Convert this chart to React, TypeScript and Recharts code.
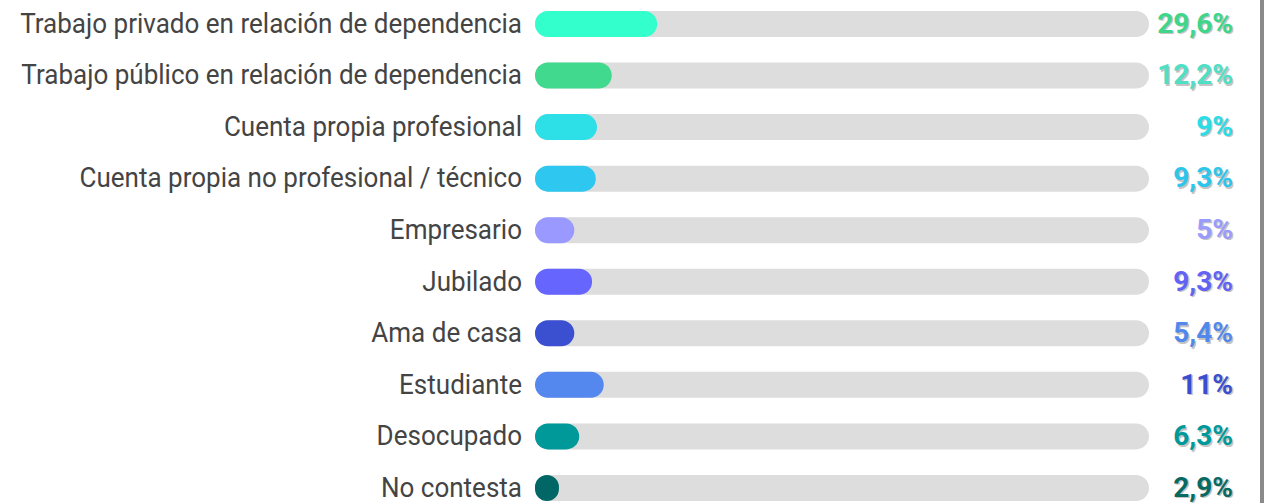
import React from "react";
import { BarChart, Bar, XAxis, YAxis, Cell } from "recharts";

const categories = [
  "Trabajo privado en relación de dependencia",
  "Trabajo público en relación de dependencia",
  "Cuenta propia profesional",
  "Cuenta propia no profesional / técnico",
  "Empresario",
  "Jubilado",
  "Ama de casa",
  "Estudiante",
  "Desocupado",
  "No contesta",
];
// bar lengths as drawn (percent of the track)
const barValues = [19.9, 12.5, 10.1, 9.9, 6.4, 9.3, 6.4, 11.2, 7.2, 3.9];
const valueLabels = ["29,6%", "12,2%", "9%", "9,3%", "5%", "9,3%", "5,4%", "11%", "6,3%", "2,9%"];
const barColors = ["#33ffcc", "#41d98d", "#2ddfe6", "#2ec7f0", "#9999ff", "#6666ff", "#3b4fd1", "#5588ee", "#009999", "#006666"];
const labelColors = ["#3dd68a", "#4fdfc4", "#2bdde6", "#2ec5ec", "#9b9bff", "#6262f5", "#5288ec", "#3a4ecf", "#00999a", "#066a62"];

const data = categories.map((name, i) => ({ name, value: barValues[i], label: valueLabels[i], idx: i }));

const LeftTick = (props: any) => {
  const { x, y, payload } = props;
  return (
    <text
      transform={`translate(${x},${y}) scale(0.93,1)`}
      x={0}
      y={0}
      dy={9}
      textAnchor="end"
      fill="#444"
      fontFamily="Roboto"
      fontSize={28}
    >
      {payload.value}
    </text>
  );
};

const RightTick = (props: any) => {
  const { x, y, index } = props;
  const tx = x + 84;
  return (
    <g>
      <text x={tx + 1.5} y={y + 1.5} dy={9} textAnchor="end" fill="#c4c4c4" fontFamily="Roboto" fontWeight={700} fontSize={28}>
        {valueLabels[index]}
      </text>
      <text x={tx} y={y} dy={9} textAnchor="end" fill={labelColors[index]} fontFamily="Roboto" fontWeight={700} fontSize={28}>
        {valueLabels[index]}
      </text>
    </g>
  );
};

export default function App() {
  return (
    <div style={{ position: "fixed", left: 0, top: -2, width: 1266, height: 520, background: "#fff" }}>
      <BarChart
        width={1266}
        height={520}
        data={data}
        layout="vertical"
        margin={{ top: 0, right: 0, bottom: 4.5, left: 0 }}
      >
        <XAxis type="number" domain={[0, 100]} hide />
        <YAxis
          yAxisId="left"
          type="category"
          dataKey="name"
          width={535}
          tickLine={false}
          axisLine={false}
          tickSize={0}
          tickMargin={13}
          tick={<LeftTick />}
          interval={0}
        />
        <YAxis
          yAxisId="right"
          orientation="right"
          type="category"
          dataKey="name"
          width={117}
          tickLine={false}
          axisLine={false}
          tickSize={0}
          tickMargin={0}
          tick={<RightTick />}
          interval={0}
        />
        <Bar
          yAxisId="left"
          dataKey="value"
          barSize={26}
          radius={13}
          background={{ fill: "#dddddd", radius: 13 } as any}
          isAnimationActive={false}
        >
          {data.map((d, i) => (
            <Cell key={i} fill={barColors[i]} />
          ))}
        </Bar>
      </BarChart>
      <div style={{ position: "absolute", left: 1260, top: 0, width: 4, height: 520, background: "#8a8a8a" }} />
    </div>
  );
}
